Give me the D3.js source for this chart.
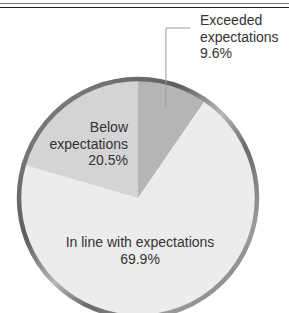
<!DOCTYPE html>
<html>
<head>
<meta charset="utf-8">
<script src="https://cdn.jsdelivr.net/npm/d3@7"></script>
<style>
  body { margin: 0; background: #fff; }
  svg { display: block; font-family: "Liberation Sans", Arial, sans-serif; }
</style>
</head>
<body>
<div id="chart"></div>
<script>
const categories = ["Exceeded expectations", "In line with expectations", "Below expectations"];
const shares = [9.6, 69.9, 20.5];
const labelLines = [
  ["Exceeded", "expectations", "9.6%"],
  ["In line with expectations", "69.9%"],
  ["Below", "expectations", "20.5%"]
];
const sliceColors = ["#b5b5b7", "#ececec", "#d4d4d6"];

const svgWidth = 289;
const svgHeight = 313;
const cx = 138;
const cy = 198;
const radius = 119;

const svg = d3.select("#chart")
  .append("svg")
  .attr("width", svgWidth)
  .attr("height", svgHeight);

// double rule at the top
svg.append("line")
  .attr("x1", 0).attr("x2", svgWidth)
  .attr("y1", 3.5).attr("y2", 3.5)
  .attr("stroke", "#777").attr("stroke-width", 1.2);
svg.append("line")
  .attr("x1", 0).attr("x2", svgWidth)
  .attr("y1", 7.5).attr("y2", 7.5)
  .attr("stroke", "#222").attr("stroke-width", 1.2);

const defs = svg.append("defs");
const grad = defs.append("linearGradient")
  .attr("id", "ring")
  .attr("x1", "0%").attr("y1", "0%")
  .attr("x2", "100%").attr("y2", "100%");
grad.append("stop").attr("offset", "0%").attr("stop-color", "#8a8a8a");
grad.append("stop").attr("offset", "35%").attr("stop-color", "#5e5e5e");
grad.append("stop").attr("offset", "50%").attr("stop-color", "#b8b8b8");
grad.append("stop").attr("offset", "62%").attr("stop-color", "#6a6a6a");
grad.append("stop").attr("offset", "80%").attr("stop-color", "#9a9a9a");
grad.append("stop").attr("offset", "100%").attr("stop-color", "#7a7a7a");

const pie = d3.pie().sort(null).value(function(d) { return d; });
const arcs = pie(shares);
const arc = d3.arc().innerRadius(0).outerRadius(radius);

const g = svg.append("g")
  .attr("transform", "translate(" + cx + "," + cy + ")");

g.selectAll("path.slice")
  .data(arcs)
  .enter()
  .append("path")
  .attr("class", "slice")
  .attr("d", arc)
  .attr("fill", function(d, i) { return sliceColors[i]; });

g.append("circle")
  .attr("r", radius)
  .attr("fill", "none")
  .attr("stroke", "url(#ring)")
  .attr("stroke-width", 4.5);

// leader line for the small slice
const leadAngle = (arcs[0].startAngle + arcs[0].endAngle) / 2;
const leadX = Math.sin(leadAngle) * radius * 0.79;
const leadY = -Math.cos(leadAngle) * radius * 0.8;
g.append("polyline")
  .attr("points", [[leadX, leadY], [leadX, 28 - cy], [190 - cx, 28 - cy]].map(function(p) { return p.join(","); }).join(" "))
  .attr("fill", "none")
  .attr("stroke", "#9a9a9a")
  .attr("stroke-width", 1);

const labelPos = [
  { x: 200 - cx, y: 25 - cy, anchor: "start" },
  { x: 140 - cx, y: 247 - cy, anchor: "middle" },
  { x: 128 - cx, y: 132 - cy, anchor: "end" }
];

g.selectAll("text.label")
  .data(arcs)
  .enter()
  .append("text")
  .attr("class", "label")
  .attr("x", function(d, i) { return labelPos[i].x; })
  .attr("y", function(d, i) { return labelPos[i].y; })
  .attr("text-anchor", function(d, i) { return labelPos[i].anchor; })
  .attr("fill", "#333")
  .style("font-size", "14px")
  .each(function(d, i) {
    const t = d3.select(this);
    labelLines[i].forEach(function(line, j) {
      t.append("tspan")
        .attr("x", labelPos[i].x)
        .attr("dy", j === 0 ? 0 : 16.5)
        .text(line);
    });
  });
</script>
</body>
</html>
